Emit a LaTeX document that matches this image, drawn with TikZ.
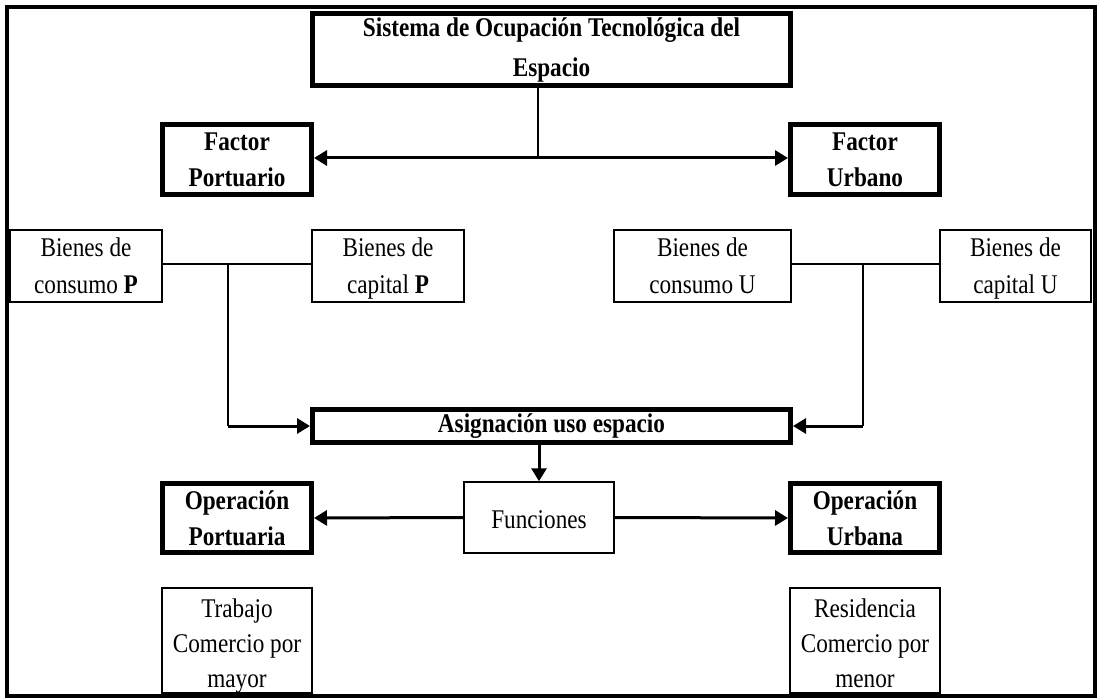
\documentclass[tikz,border=0pt]{standalone}
\usepackage{fontspec}
\setmainfont{Liberation Serif}[FakeStretch=0.86]
\usetikzlibrary{arrows.meta}
\begin{document}
\begin{tikzpicture}[x=1pt,y=-1pt,
  thickbox/.style={draw, line width=5pt, rectangle, align=center, inner sep=0pt,
    font=\bfseries\fontsize{27}{36}\selectfont},
  thinbox/.style={draw, line width=1.5pt, rectangle, align=center, inner sep=0pt,
    font=\fontsize{27}{37}\selectfont},
  arr/.style={line width=3pt, -{Triangle[length=13pt,width=15pt]}},
  arrboth/.style={line width=3pt, {Triangle[length=13pt,width=15pt]}-{Triangle[length=13pt,width=15pt]}},
  ln/.style={line width=1.5pt}]
\useasboundingbox (0,0) rectangle (1102,700);
\draw[line width=4.5pt] (7,7) rectangle (1095,696);

\node[thickbox, minimum width=478pt, minimum height=72pt, font=\bfseries\fontsize{27}{40}\selectfont] (top) at (551.5,50) {Sistema de Ocupación Tecnológica del\\Espacio};
\node[thickbox, minimum width=149pt, minimum height=70pt] (fp) at (237,159.5) {Factor\\Portuario};
\node[thickbox, minimum width=149pt, minimum height=70pt] (fu) at (865,159.5) {Factor\\Urbano};

\node[thinbox, minimum width=152pt, minimum height=72pt] (bcp) at (86,266) {\rule{0pt}{26pt}Bienes de\\consumo \textbf{P}\rule[-7pt]{0pt}{7pt}};
\node[thinbox, minimum width=152pt, minimum height=72pt] (bkp) at (388,266) {\rule{0pt}{26pt}Bienes de\\capital \textbf{P}\rule[-7pt]{0pt}{7pt}};
\node[thinbox, minimum width=177pt, minimum height=72pt] (bcu) at (702.5,266) {\rule{0pt}{26pt}Bienes de\\consumo U\rule[-7pt]{0pt}{7pt}};
\node[thinbox, minimum width=151pt, minimum height=72pt] (bku) at (1015.5,266) {\rule{0pt}{26pt}Bienes de\\capital U\rule[-7pt]{0pt}{7pt}};

\node[thickbox, minimum width=478pt, minimum height=33pt] (asig) at (551.5,426) {Asignación uso espacio};
\node[thinbox, minimum width=150pt, minimum height=71pt] (fun) at (539,517.5) {\rule{0pt}{23pt}Funciones};
\node[thickbox, minimum width=149pt, minimum height=69pt] (op) at (237,518) {\rule{0pt}{25pt}Operación\\Portuaria\rule[-7pt]{0pt}{7pt}};
\node[thickbox, minimum width=149pt, minimum height=69pt] (ou) at (865,518) {\rule{0pt}{25pt}Operación\\Urbana\rule[-7pt]{0pt}{7pt}};

\node[thinbox, line width=2.5pt, minimum width=150pt, minimum height=105pt, font=\fontsize{27}{35}\selectfont] (trab) at (237,640.5) {\rule{0pt}{29pt}Trabajo\\Comercio por\\mayor\rule[-6pt]{0pt}{6pt}};
\node[thinbox, line width=2.5pt, minimum width=150pt, minimum height=105pt, font=\fontsize{27}{35}\selectfont] (res) at (865,640.5) {\rule{0pt}{29pt}Residencia\\Comercio por\\menor\rule[-6pt]{0pt}{6pt}};

\coordinate (jt) at (538,158);
\coordinate (jp) at (228,264);
\coordinate (ju) at (863,264);

\draw[ln] (top.south -| jt) -- (jt);
\draw[arrboth] (fp.east |- jt) -- (fu.west |- jt);
\draw[ln] (bcp.east |- jp) -- (bkp.west |- jp);
\draw[ln] (bcu.east |- ju) -- (bku.west |- ju);
\draw[line width=2pt] (jp) -- (jp |- asig.west);
\draw[arr] (jp |- asig.west) -- (asig.west);
\draw[line width=2pt] (ju) -- (ju |- asig.east);
\draw[arr] (ju |- asig.east) -- (asig.east);
\draw[arr] (fun.north |- asig.south) -- (fun.north);
\draw[arr] (fun.west) -- (op.east);
\draw[arr] (fun.east) -- (ou.west);
\end{tikzpicture}
\end{document}
